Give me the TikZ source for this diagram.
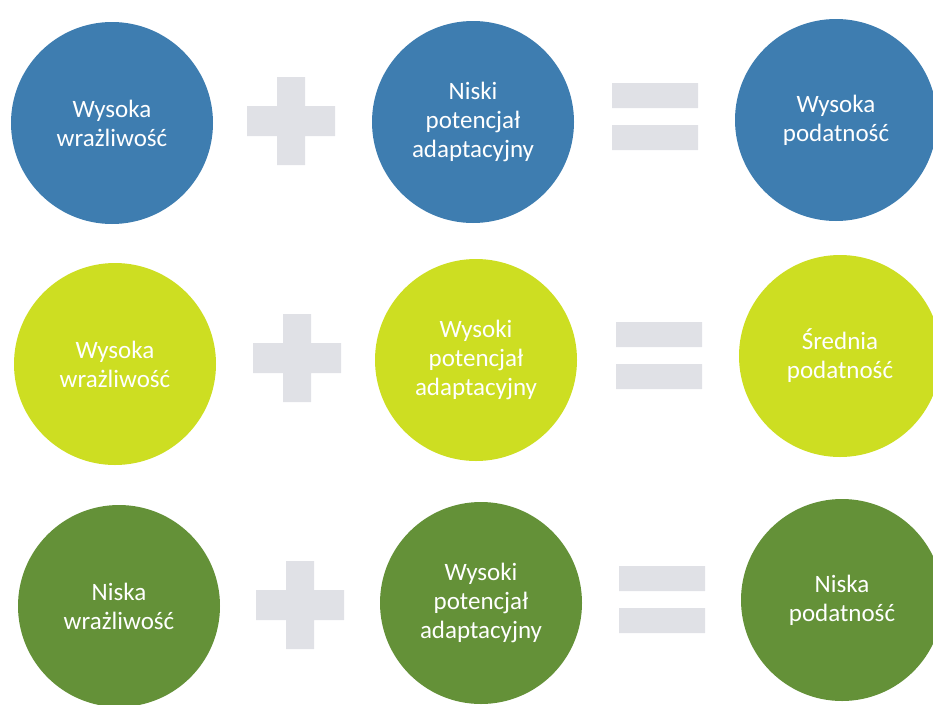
\documentclass[tikz,border=0pt]{standalone}
\usepackage{fontspec}
\setmainfont{Carlito}
\usetikzlibrary{positioning}
\definecolor{rowblue}{RGB}{62,125,176}
\definecolor{rowlime}{RGB}{205,222,34}
\definecolor{rowgreen}{RGB}{100,145,56}
\definecolor{signgrey}{RGB}{224,225,230}
\newcommand{\plusmark}[1]{\fill[signgrey, shift={(#1)}] (-14,-44) rectangle (14,44) (-44,-15) rectangle (44,15);}
\newcommand{\eqmark}[1]{\fill[signgrey, shift={(#1)}] (-43,-34) rectangle (43,-9) (-43,8) rectangle (43,33);}

\begin{document}
\begin{tikzpicture}[x=1pt, y=-1pt,
    bubble/.style={circle, minimum size=202pt, inner sep=0pt, align=center,
        text=white, font=\fontsize{25}{29}\selectfont}]
    \useasboundingbox (0,0) rectangle (933,704);

    % First row: blue
    \node[bubble, fill=rowblue] (highsens1) at (112,123) {Wysoka\\wrażliwość};
    \node[bubble, fill=rowblue] (lowadapt1) at (473,122) {Niski\\potencjał\\adaptacyjny};
    \node[bubble, fill=rowblue] (highvuln) at (836,120) {Wysoka\\podatność};
    \plusmark{291,121}
    \eqmark{655,117}

    % Second row: lime
    \node[bubble, fill=rowlime] (highsens2) at (115,364) {Wysoka\\wrażliwość};
    \node[bubble, fill=rowlime] (highadapt2) at (476,360) {Wysoki\\potencjał\\adaptacyjny};
    \node[bubble, fill=rowlime] (midvuln) at (840,356) {Średnia\\podatność};
    \plusmark{297,358}
    \eqmark{659,356}

    % Third row: green
    \node[bubble, fill=rowgreen] (lowsens3) at (119,606) {Niska\\wrażliwość};
    \node[bubble, fill=rowgreen] (highadapt3) at (481,603) {Wysoki\\potencjał\\adaptacyjny};
    \node[bubble, fill=rowgreen] (lowvuln) at (842,600) {Niska\\podatność};
    \plusmark{300,605}
    \eqmark{662,600}

\end{tikzpicture}
\end{document}
